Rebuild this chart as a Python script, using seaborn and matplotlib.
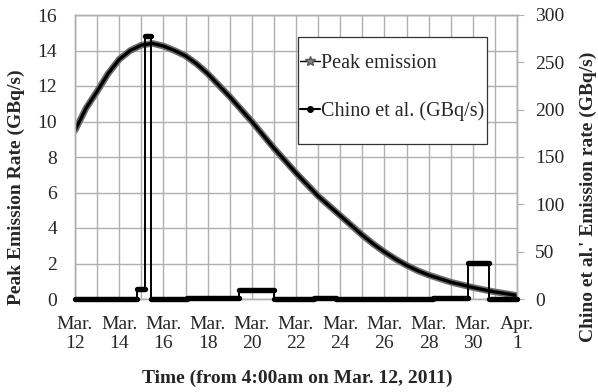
import numpy as np
import pandas as pd
import seaborn as sns
import matplotlib.pyplot as plt
from matplotlib.lines import Line2D
from matplotlib.patches import Rectangle

sns.set_style('white')
plt.rcParams['font.family'] = ['Liberation Serif', 'DejaVu Serif']
plt.rcParams['font.size'] = 14

# time in days after 4:00am on Mar. 12, 2011
peak_day = [0, 0.5, 1, 1.5, 2, 2.5, 3, 3.5, 4, 4.5, 5, 5.5, 6, 6.5, 7, 7.5,
            8, 8.5, 9, 9.5, 10, 10.5, 11, 11.5, 12, 12.5, 13, 13.5, 14, 14.5,
            15, 15.5, 16, 16.5, 17, 17.5, 18, 18.5, 19, 19.5, 20]
peak_rate = [9.5, 10.75, 11.7, 12.7, 13.5, 14.0, 14.3, 14.4, 14.25, 14.0,
             13.7, 13.25, 12.7, 12.05, 11.4, 10.7, 10.0, 9.25, 8.5, 7.8,
             7.1, 6.45, 5.8, 5.25, 4.7, 4.15, 3.6, 3.1, 2.65, 2.25,
             1.9, 1.6, 1.35, 1.15, 0.95, 0.8, 0.65, 0.52, 0.4, 0.3, 0.2]

# Chino et al. release estimate (GBq/s), piecewise constant
chino_start = [0, 2.8, 3.17, 3.44, 5.05, 7.4, 9.0, 10.8, 11.8, 16.2, 17.77, 18.75]
chino_end = [2.8, 3.17, 3.44, 5.05, 7.4, 9.0, 10.8, 11.8, 16.2, 17.77, 18.75, 20.0]
chino_rate = [0, 10.5, 278, 0, 1.5, 9.5, 0, 1.5, 0, 1.0, 38, 0]

tick_days = [0, 2, 4, 6, 8, 10, 12, 14, 16, 18, 20]
tick_labels = ['Mar.\n12', 'Mar.\n14', 'Mar.\n16', 'Mar.\n18', 'Mar.\n20',
               'Mar.\n22', 'Mar.\n24', 'Mar.\n26', 'Mar.\n28', 'Mar.\n30',
               'Apr.\n1']

peak = pd.DataFrame({'day': peak_day, 'rate': peak_rate})

grid_c = '#b0b0b0'

fig = plt.figure(figsize=(5.98, 3.92), dpi=100)
ax = fig.add_axes([75 / 598, 93 / 392, 442 / 598, 284 / 392])
ax2 = ax.twinx()

# peak emission curve (thick grey band with dark core)
sns.lineplot(data=peak, x='day', y='rate', ax=ax, color='#6e6e6e', lw=4.8,
             legend=False)
ax.plot(peak['day'], peak['rate'], color='black', lw=2.4)

ax.set_xlim(0, 20)
ax.set_ylim(0, 16)
ax.set_yticks(range(0, 17, 2))
ax.set_xticks(tick_days, tick_labels)
ax.set_xticks(range(0, 21), minor=True)
for lab in ax.get_xticklabels():
    lab.set_linespacing(1.15)
ax.grid(which='both', axis='x', color=grid_c, lw=1)
ax.grid(which='major', axis='y', color=grid_c, lw=1)
ax.tick_params(axis='both', which='both', length=0)
ax.tick_params(axis='x', pad=12)
ax.tick_params(axis='y', pad=13)
ax.set_xlabel('')
ax.set_ylabel('')

# Chino et al. steps on the right axis
xs, ys = [], []
for s, e, v in zip(chino_start, chino_end, chino_rate):
    xs += [s, e]
    ys += [v, v]
ax2.plot(xs, ys, color='black', lw=1.4, clip_on=False, zorder=3)
segs = ax2.hlines(chino_rate, chino_start, chino_end, color='black', lw=3.9,
                  clip_on=False, zorder=3)
segs.set_capstyle('round')
ax2.set_ylim(0, 300)
ax2.set_yticks(range(0, 301, 50))
ax2.tick_params(axis='y', length=5, color=grid_c, pad=8)

for a in (ax, ax2):
    for sp in a.spines.values():
        sp.set_color(grid_c)
        sp.set_linewidth(1)

handles = [
    Line2D([], [], color='black', lw=1, marker='*', markersize=7,
           markerfacecolor='#888888', markeredgecolor='#555555'),
    Line2D([], [], color='black', lw=1.5, marker='o', markersize=4),
]
leg = ax2.legend(handles, ['Peak emission', 'Chino et al. (GBq/s)'],
                 loc='upper left', bbox_to_anchor=(300 / 598, 1 - 54 / 392),
                 bbox_transform=fig.transFigure, frameon=False, borderpad=0,
                 labelspacing=1.4, handlelength=1.0, handletextpad=0.05,
                 borderaxespad=0, fontsize=14.5)
leg.set_zorder(6)
box = Rectangle((298 / 598, 1 - 144 / 392), 189 / 598, 107 / 392,
                transform=fig.transFigure, facecolor='white',
                edgecolor='#333333', lw=0.9, zorder=5)
ax2.add_artist(box)
box.set_clip_on(False)

fig.text(16 / 598, 1 - 187 / 392, 'Peak Emission Rate (GBq/s)', rotation=90,
         ha='center', va='center', fontweight='bold')
fig.text(588 / 598, 1 - 197 / 392, "Chino et al.' Emission rate (GBq/s)",
         rotation=90, ha='center', va='center', fontweight='bold')
fig.text(297 / 598, 1 - 378 / 392, 'Time (from 4:00am on Mar. 12, 2011)',
         ha='center', va='center', fontweight='bold')

fig.savefig('out.png', dpi=100)
